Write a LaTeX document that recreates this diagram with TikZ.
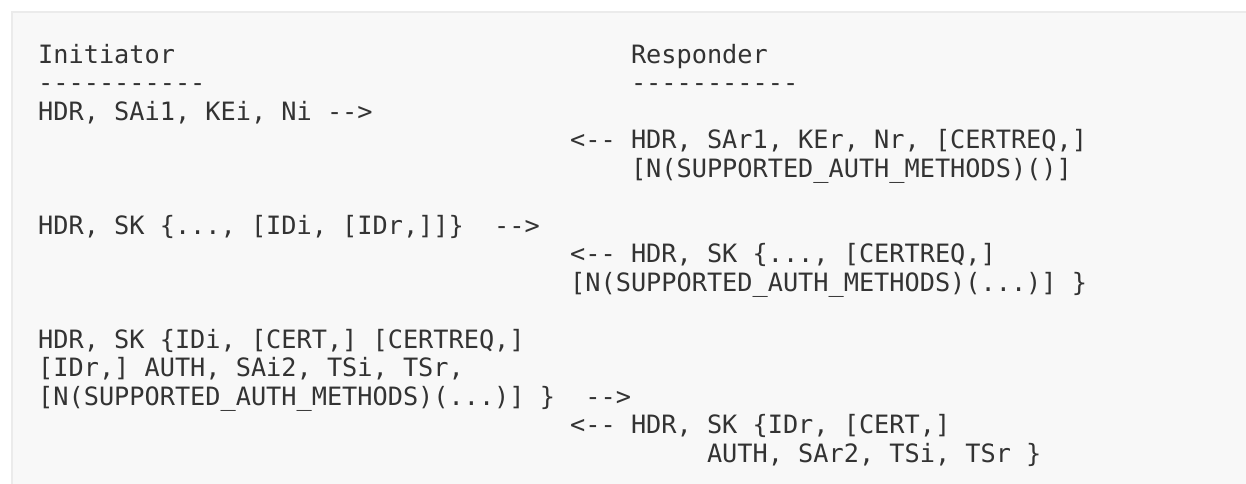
\documentclass[tikz,border=0pt]{standalone}
\usepackage{fontspec}
\setmonofont{DejaVu Sans Mono}
\usepackage{tikz}
\usetikzlibrary{positioning}
\definecolor{codegray}{HTML}{333333}
\definecolor{boxfill}{HTML}{F8F8F8}
\definecolor{boxline}{HTML}{EBEBEB}
\newcommand{\codefont}{\ttfamily\fontsize{25.25pt}{28.5pt}\selectfont\frenchspacing}

\begin{document}
\begin{tikzpicture}[x=1pt, y=-1pt, msg/.style={anchor=base west, inner sep=0pt, font=\codefont, text=codegray}]
    	\useasboundingbox (0,0) rectangle (1246,483);
    	\clip (0,0) rectangle (1246,483);
    	\draw[boxline, fill=boxfill, line width=1.5pt] (12,12) rectangle (1270,510);
    	% column 0 = 38, column 35 = 570, column 39 = 630.8, column 44 = 706.8
    	\node[msg] (ihead) at (38,63)    {Initiator};
    	\node[msg] (rhead) at (630.8,63) {Responder};
    	\node[msg] (iline) at (38,91.5)   {-----------};
    	\node[msg] (rline) at (630.8,91.5) {-----------};
    	\node[msg] (i1) at (38,120)    {HDR, SAi1, KEi, Ni -->};
    	\node[msg] (r1) at (570,148.5) {<-- HDR, SAr1, KEr, Nr, [CERTREQ,]};
    	\node[msg] (r1b) at (630.8,177) {[N(SUPPORTED\_AUTH\_METHODS)()]};
    	\node[msg] (i2) at (38,234)    {HDR, SK \{..., [IDi, [IDr,]]\}~~-->};
    	\node[msg] (r2) at (570,262.5) {<-- HDR, SK \{..., [CERTREQ,]};
    	\node[msg] (r2b) at (570,291)  {[N(SUPPORTED\_AUTH\_METHODS)(...)] \}};
    	\node[msg] (i3) at (38,348)    {HDR, SK \{IDi, [CERT,] [CERTREQ,]};
    	\node[msg] (i3b) at (38,376.5) {[IDr,] AUTH, SAi2, TSi, TSr,};
    	\node[msg] (i3c) at (38,405)   {[N(SUPPORTED\_AUTH\_METHODS)(...)] \}~~-->};
    	\node[msg] (r3) at (570,433.5) {<-- HDR, SK \{IDr, [CERT,]};
    	\node[msg] (r3b) at (706.8,462) {AUTH, SAr2, TSi, TSr \}};
\end{tikzpicture}
\end{document}
